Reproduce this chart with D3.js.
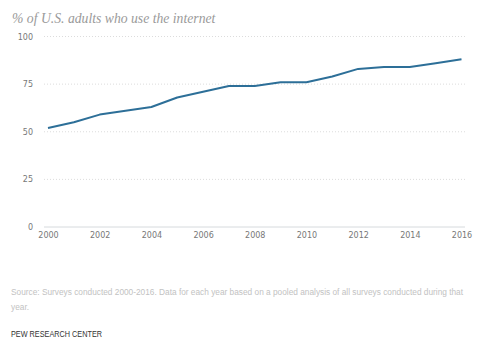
<!DOCTYPE html>
<html>
<head>
<meta charset="utf-8">
<script src="https://cdn.jsdelivr.net/npm/d3@7"></script>
<style>
  html, body { margin: 0; padding: 0; background: #fff; }
  svg { display: block; }
</style>
</head>
<body>
<div id="chart"></div>
<script>
// Share of U.S. adults who use the internet, 2000-2016
const years = [2000, 2001, 2002, 2003, 2004, 2005, 2006, 2007, 2008,
               2009, 2010, 2011, 2012, 2013, 2014, 2015, 2016];
const internetUse = [52, 55, 59, 61, 63, 68, 71, 74, 74,
                     76, 76, 79, 83, 84, 84, 86, 88];
const yTicks = [0, 25, 50, 75, 100];
const xTicks = [2000, 2002, 2004, 2006, 2008, 2010, 2012, 2014, 2016];

const width = 488, height = 348;
const svg = d3.select("#chart").append("svg")
  .attr("width", width).attr("height", height);

const x = d3.scaleLinear().domain([2000, 2016]).range([48, 461.5]);
const y = d3.scaleLinear().domain([0, 100]).range([227, 36.5]);

// Title
svg.append("text")
  .attr("x", 12).attr("y", 23)
  .attr("font-family", "'Liberation Serif', 'DejaVu Serif', serif")
  .attr("font-style", "italic")
  .attr("font-size", 13.7)
  .attr("fill", "#9a9a9a")
  .text("% of U.S. adults who use the internet");

// Horizontal gridlines
svg.append("g")
  .selectAll("line")
  .data(yTicks.filter(d => d > 0))
  .join("line")
  .attr("x1", 44).attr("x2", 465)
  .attr("y1", d => y(d)).attr("y2", d => y(d))
  .attr("stroke", "#dcdcdc")
  .attr("stroke-width", 1)
  .attr("stroke-dasharray", "1,2");

// Baseline
svg.append("line")
  .attr("x1", 44).attr("x2", 465)
  .attr("y1", y(0)).attr("y2", y(0))
  .attr("stroke", "#d6dadd")
  .attr("stroke-width", 1);

// Y axis labels
const yAxis = d3.axisLeft(y).tickValues(yTicks).tickSize(0).tickPadding(0);
svg.append("g")
  .attr("transform", "translate(33,0)")
  .call(yAxis)
  .call(g => g.select(".domain").remove())
  .call(g => g.selectAll("text")
    .attr("font-family", "'DejaVu Sans', Verdana, sans-serif")
    .attr("font-size", 8)
    .attr("fill", "#777"));

// X axis labels
const xAxis = d3.axisBottom(x).tickValues(xTicks).tickFormat(d3.format("d"))
  .tickSize(0).tickPadding(0);
svg.append("g")
  .attr("transform", `translate(0,${y(0) + 5})`)
  .call(xAxis)
  .call(g => g.select(".domain").remove())
  .call(g => g.selectAll("text")
    .attr("font-family", "'DejaVu Sans', Verdana, sans-serif")
    .attr("font-size", 8)
    .attr("fill", "#777"));

// Line
const line = d3.line()
  .x((d, i) => x(years[i]))
  .y(d => y(d));
svg.append("path")
  .datum(internetUse)
  .attr("d", line)
  .attr("fill", "none")
  .attr("stroke", "#2d6f98")
  .attr("stroke-width", 2)
  .attr("stroke-linejoin", "round");

// Source note
const note = svg.append("text")
  .attr("font-family", "'Liberation Sans', Arial, sans-serif")
  .attr("font-size", 8.3)
  .attr("fill", "#c2c2c2");
note.append("tspan").attr("x", 11).attr("y", 295)
  .text("Source: Surveys conducted 2000-2016. Data for each year based on a pooled analysis of all surveys conducted during that");
note.append("tspan").attr("x", 11).attr("y", 310)
  .text("year.");

// Credit (condensed)
svg.append("text")
  .attr("x", 11).attr("y", 337)
  .attr("font-family", "'Liberation Sans', Arial, sans-serif")
  .attr("font-size", 8.8)
  .attr("fill", "#333")
  .attr("textLength", 91)
  .attr("lengthAdjust", "spacingAndGlyphs")
  .text("PEW RESEARCH CENTER");
</script>
</body>
</html>
